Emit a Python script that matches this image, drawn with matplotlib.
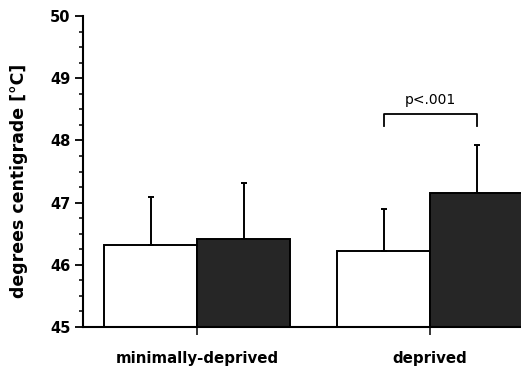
import matplotlib
matplotlib.use("Agg")
import matplotlib.pyplot as plt
import numpy as np

# values
groups = ["minimally-deprived", "deprived"]
open_means = [46.32, 46.22]
open_sd = [0.77, 0.68]
filled_means = [46.42, 47.15]
filled_sd = [0.90, 0.78]
y_ticks = [45, 46, 47, 48, 49, 50]
p_text = "p<.001"
bracket_y = 48.42
bracket_drop = 0.19

plt.rcParams["font.family"] = ["DejaVu Sans"]

fig = plt.figure(figsize=(5.21, 3.69), dpi=100)
ax = fig.add_axes([83 / 521, 42 / 369, 438 / 521, 311 / 369])

x = np.arange(len(groups))
w = 0.4
ax.bar(x - w, np.array(open_means) - 45, w, bottom=45, align="edge",
       color="white", edgecolor="black", linewidth=1.4, zorder=2)
ax.bar(x, np.array(filled_means) - 45, w, bottom=45, align="edge",
       color="#262626", edgecolor="black", linewidth=1.4, zorder=2)

# upward-only error bars
ax.errorbar(x - w / 2, open_means, yerr=[np.zeros(2), open_sd], fmt="none",
            ecolor="black", elinewidth=1.4, capsize=2.5, capthick=1.4, zorder=3)
ax.errorbar(x + w / 2, filled_means, yerr=[np.zeros(2), filled_sd], fmt="none",
            ecolor="black", elinewidth=1.4, capsize=2.5, capthick=1.4, zorder=3)

# significance bracket over the deprived group
bx0, bx1 = x[1] - w / 2, x[1] + w / 2
ax.plot([bx0, bx0, bx1, bx1],
        [bracket_y - bracket_drop, bracket_y, bracket_y, bracket_y - bracket_drop],
        color="black", lw=1.3, clip_on=False)
ax.text(x[1], bracket_y + 0.12, p_text, ha="center", va="bottom", fontsize=10)

ax.set_xlim(-0.49, 1.39)
ax.set_ylim(45, 50)
ax.set_xticks(x)
ax.set_xticklabels(groups, fontsize=10.8, fontweight="bold")
ax.set_yticks(y_ticks)
ax.set_yticklabels([str(t) for t in y_ticks], fontsize=10.5, fontweight="bold")
ax.set_yticks(np.arange(45, 50.01, 0.25), minor=True)
ax.tick_params(axis="y", which="major", direction="out", length=6, width=1.3, pad=3)
ax.tick_params(axis="y", which="minor", direction="out", length=3, width=1.1)
ax.tick_params(axis="x", which="major", direction="out", length=6, width=1.1, pad=11)

ax.set_ylabel("degrees centigrade [\u00b0C]", fontsize=12.5, fontweight="bold")
ax.yaxis.set_label_coords(-0.125, 0.47)

for side in ("top", "right"):
    ax.spines[side].set_visible(False)
ax.spines["left"].set_linewidth(1.5)
ax.spines["bottom"].set_linewidth(1.5)

fig.savefig("out.png", dpi=100)
